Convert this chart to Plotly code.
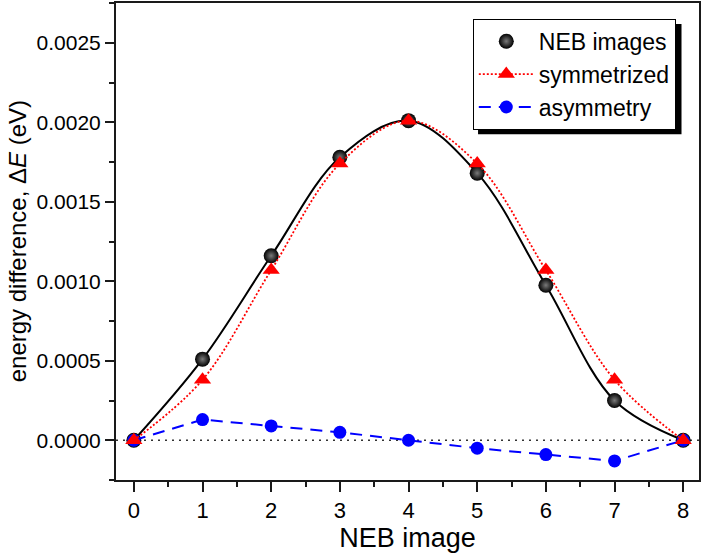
import plotly.graph_objects as go

# ---- data ----
images = [0, 1, 2, 3, 4, 5, 6, 7, 8]
neb_energy = [0.0, 0.00051, 0.00116, 0.00178, 0.00201, 0.00168, 0.000975, 0.00025, 0.0]
symmetrized = [0.0, 0.00038, 0.00107, 0.00174, 0.00201, 0.00174, 0.00107, 0.00038, 0.0]
asymmetry = [0.0, 0.00013, 0.00009, 0.00005, 0.0, -0.00005, -0.00009, -0.00013, 0.0]

x_ticks = [0, 1, 2, 3, 4, 5, 6, 7, 8]
y_ticks = [0.0, 0.0005, 0.0010, 0.0015, 0.0020, 0.0025]

XR = [-0.26, 8.23]
YR = [-0.00025, 0.00275]
FONT = "Liberation Sans, Arial, sans-serif"
AX = "#1a1a1a"

fig = go.Figure()

# black smooth curve through NEB images
fig.add_trace(go.Scatter(
    x=images, y=neb_energy, mode="lines",
    line=dict(color="black", width=2, shape="spline", smoothing=1.0),
    showlegend=False, hoverinfo="skip"))

# NEB images markers (spheres)
fig.add_trace(go.Scatter(
    x=images, y=neb_energy, mode="markers", name="NEB images", legendrank=1,
    marker=dict(symbol="circle", size=15, color="black",
                gradient=dict(type="radial", color="#7a7a7a"),
                line=dict(width=0))))

# blue dashed asymmetry
fig.add_trace(go.Scatter(
    x=images, y=asymmetry, mode="lines+markers", name="asymmetry", legendrank=3,
    line=dict(color="#0000ff", width=2, dash="12px,8px"),
    marker=dict(symbol="circle", size=13, color="#0000ff")))

# red dotted symmetrized
fig.add_trace(go.Scatter(
    x=images, y=symmetrized, mode="lines+markers", name="symmetrized", legendrank=2,
    line=dict(color="#ff0000", width=1.8, dash="2px,2px", shape="spline", smoothing=1.0),
    marker=dict(symbol="triangle-up", size=15, color="#ff0000")))

# dotted zero line
fig.add_shape(type="line", xref="paper", yref="y", x0=0, x1=1, y0=0, y1=0,
              line=dict(color="#333333", width=1.6, dash="2px,5px"), layer="below")

# legend shadow (offset box behind the legend)
fig.add_shape(type="rect", xref="paper", yref="paper",
              x0=0.621, x1=0.970, y0=0.725, y1=0.956,
              fillcolor="black", line=dict(width=0), layer="above")

# y-axis title as an annotation for exact placement
fig.add_annotation(text="energy difference, Δ<i>E</i> (eV)", textangle=-90,
                   xref="paper", yref="paper", x=-0.195, y=0.5,
                   xanchor="left", yanchor="middle", showarrow=False,
                   font=dict(size=24, family=FONT, color="black"))

axis_common = dict(showgrid=False, zeroline=False, linecolor=AX, linewidth=2,
                   tickcolor=AX, tickwidth=2)

fig.update_layout(
    width=702, height=553,
    margin=dict(l=116, r=3, t=1, b=73),
    paper_bgcolor="white", plot_bgcolor="white",
    font=dict(family=FONT, color="black", size=22),
    xaxis=dict(range=XR, tickvals=x_ticks, ticks="outside", ticklen=10,
               showline=True, mirror=True,
               minor=dict(dtick=0.5, tick0=0, ticks="outside", ticklen=5, tickwidth=2, tickcolor=AX),
               tickfont=dict(size=22),
               title=dict(text="NEB image", font=dict(size=27), standoff=1),
               **axis_common),
    yaxis=dict(range=YR, tickvals=y_ticks, tickformat=".4f", ticks="outside", ticklen=9,
               showline=True, mirror=True,
               minor=dict(dtick=0.00025, tick0=0, ticks="outside", ticklen=5, tickwidth=2, tickcolor=AX),
               tickfont=dict(size=21),
               **axis_common),
    xaxis2=dict(range=XR, overlaying="x", side="top", tickvals=x_ticks, ticks="inside", ticklen=10,
                showticklabels=False, showline=False, showgrid=False, zeroline=False,
                tickcolor=AX, tickwidth=2,
                minor=dict(dtick=0.5, tick0=0, ticks="inside", ticklen=5, tickwidth=2, tickcolor=AX)),
    yaxis2=dict(range=YR, overlaying="y", side="right", tickvals=y_ticks, ticks="inside", ticklen=9,
                showticklabels=False, showline=False, showgrid=False, zeroline=False,
                tickcolor=AX, tickwidth=2,
                minor=dict(dtick=0.00025, tick0=0, ticks="inside", ticklen=5, tickwidth=2, tickcolor=AX)),
    legend=dict(x=0.612, y=0.967, xanchor="left", yanchor="top",
                bgcolor="white", bordercolor="black", borderwidth=1,
                font=dict(size=23), itemwidth=55, tracegroupgap=0),
    showlegend=True,
)

fig.write_html("out.html")
